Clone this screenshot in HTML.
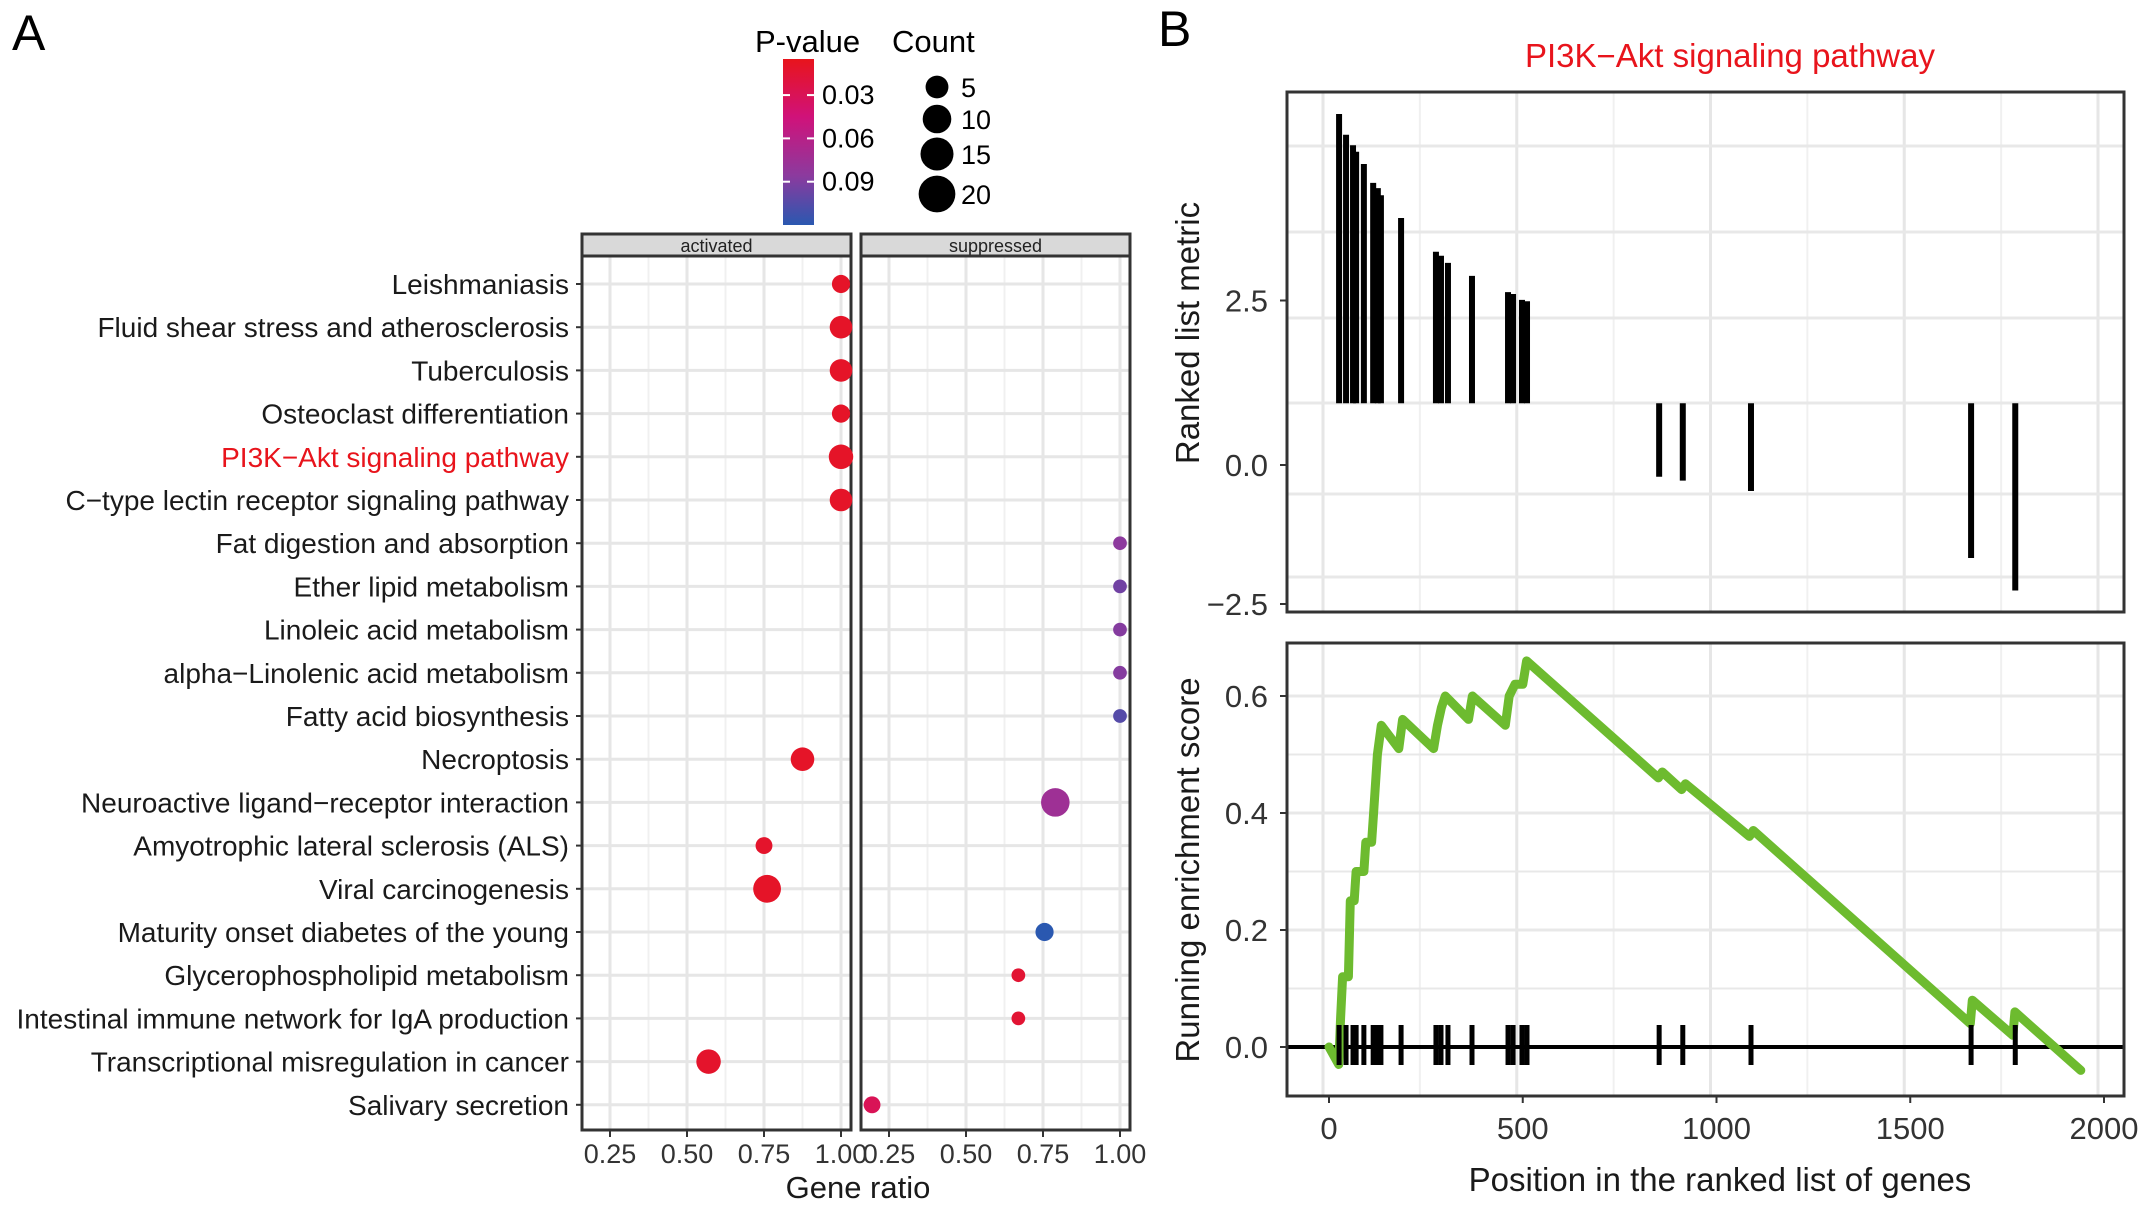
<!DOCTYPE html>
<html><head><meta charset="utf-8"><style>
html,body{margin:0;padding:0;background:#fff;}
svg{display:block;font-family:"Liberation Sans",Arial,sans-serif;}
</style></head><body>
<svg id="fig" width="2150" height="1209" viewBox="0 0 2150 1209" xmlns="http://www.w3.org/2000/svg">
<defs>
<linearGradient id="pgrad" x1="0" y1="0" x2="0" y2="1">
<stop offset="0" stop-color="#e8141c"/><stop offset="0.35" stop-color="#d0127a"/><stop offset="0.7" stop-color="#8c3a9e"/><stop offset="1" stop-color="#2a58b0"/>
</linearGradient>
</defs>
<text x="12" y="50" font-size="50">A</text>
<text x="1158" y="46" font-size="50">B</text>
<g id="legend">
<text x="755" y="52" font-size="31">P-value</text>
<rect x="783" y="59" width="31" height="166" fill="url(#pgrad)"/>
<text x="892" y="52" font-size="31">Count</text>
</g>
<g id="plotA"></g>
<g id="plotB"></g>
</svg>
<script>
const NS='http://www.w3.org/2000/svg';
function mk(parent,tag,attrs,txt){const e=document.createElementNS(NS,tag);for(const k in attrs)e.setAttribute(k,attrs[k]);if(txt!==undefined)e.textContent=txt;parent.appendChild(e);return e;}

// ---------- Panel A data ----------
const pathways=["Leishmaniasis","Fluid shear stress and atherosclerosis","Tuberculosis","Osteoclast differentiation","PI3K\u2212Akt signaling pathway","C\u2212type lectin receptor signaling pathway","Fat digestion and absorption","Ether lipid metabolism","Linoleic acid metabolism","alpha\u2212Linolenic acid metabolism","Fatty acid biosynthesis","Necroptosis","Neuroactive ligand\u2212receptor interaction","Amyotrophic lateral sclerosis (ALS)","Viral carcinogenesis","Maturity onset diabetes of the young","Glycerophospholipid metabolism","Intestinal immune network for IgA production","Transcriptional misregulation in cancer","Salivary secretion"];
const groups=["act","act","act","act","act","act","sup","sup","sup","sup","sup","act","sup","act","act","sup","sup","sup","act","sup"];
const geneRatio=[1.0,1.0,1.0,1.0,1.0,1.0,1.0,1.0,1.0,1.0,1.0,0.875,0.79,0.75,0.76,0.755,0.67,0.67,0.57,0.195];
const counts=[6,10,10,6,12,10,3,3,3,3,3,11,17,5,16,6,3,3,12,5];
const pvalues=[0.01,0.01,0.01,0.01,0.01,0.01,0.085,0.095,0.088,0.088,0.105,0.01,0.075,0.012,0.01,0.12,0.015,0.015,0.012,0.03];
const xTicks=[0.25,0.5,0.75,1.0];
const xTickLabels=["0.25","0.50","0.75","1.00"];
const legendCounts=[5,10,15,20];
const pTicks=[0.03,0.06,0.09];

const panels={act:{x0:582,x1:851,label:"activated"},sup:{x0:861,x1:1130,label:"suppressed"}};
const yTop=256,yBot=1130,stripTop=234;
function xA(g,v){const p=panels[g];return p.x0+28+(v-0.25)*(p.x1-p.x0-28-10)/0.75;}
function yA(i){return 284+i*43.2;}
function rA(c){return 3.1*Math.sqrt(c)+1.5;}
function pY(p){return 59+(p-0.005)*(166/0.115);}
function pColor(p){const t=Math.max(0,Math.min(1,(p-0.005)/0.115));
 const st=[[0,[232,20,28]],[0.35,[208,18,122]],[0.7,[140,58,158]],[1,[42,88,176]]];
 for(let k=0;k<st.length-1;k++){if(t<=st[k+1][0]){const a=st[k],b=st[k+1],u=(t-a[0])/(b[0]-a[0]);const c=a[1].map((v,j)=>Math.round(v+(b[1][j]-v)*u));return `rgb(${c.join(',')})`;}}return 'rgb(42,88,176)';}

const leg=document.getElementById('legend');
pTicks.forEach(p=>{const y=pY(p);
 const l=mk(leg,'line',{x1:783,x2:790,y1:y,y2:y,stroke:'#fff','stroke-width':2});
 
 const l2=mk(leg,'line',{x1:807,x2:814,y1:y,y2:y,stroke:'#fff','stroke-width':2});
 
 const t=mk(leg,'text',{x:822,y:y+9,'font-size':27},p.toFixed(2));
 });
const legY=[87,119,154,194];
legendCounts.forEach((c,i)=>{
 const ci=mk(leg,'circle',{cx:937,cy:legY[i],r:rA(c)+3,fill:'#000'});
 
 const t=mk(leg,'text',{x:961,y:legY[i]+10,'font-size':27},String(c));
 });

const A=document.getElementById('plotA');
['act','sup'].forEach(g=>{const p=panels[g];
 const bg=mk(A,'rect',{x:p.x0,y:yTop,width:p.x1-p.x0,height:yBot-yTop,fill:'#fff'});
 
 [0.125,0.375,0.625,0.875,1.125].forEach(v=>{const x=xA(g,v);if(x>p.x0&&x<p.x1){const l=mk(A,'line',{x1:x,x2:x,y1:yTop,y2:yBot,stroke:'#f0f0f0','stroke-width':2});}});
 xTicks.forEach(v=>{const x=xA(g,v);const l=mk(A,'line',{x1:x,x2:x,y1:yTop,y2:yBot,stroke:'#e6e6e6','stroke-width':3});});
 pathways.forEach((n,i)=>{const l=mk(A,'line',{x1:p.x0,x2:p.x1,y1:yA(i),y2:yA(i),stroke:'#e6e6e6','stroke-width':3});});
 const st=mk(A,'rect',{x:p.x0,y:stripTop,width:p.x1-p.x0,height:yTop-stripTop,fill:'#d9d9d9',stroke:'#333','stroke-width':3});
 
 const stt=mk(A,'text',{x:(p.x0+p.x1)/2,y:stripTop+18,'font-size':18,'text-anchor':'middle',fill:'#222'},p.label);
 
 const br=mk(A,'rect',{x:p.x0,y:yTop,width:p.x1-p.x0,height:yBot-yTop,fill:'none',stroke:'#333','stroke-width':3});
 
 xTicks.forEach((v,k)=>{const x=xA(g,v);
  const tk=mk(A,'line',{x1:x,x2:x,y1:yBot,y2:yBot+7,stroke:'#333','stroke-width':2});
  const t=mk(A,'text',{x:x,y:yBot+33,'font-size':27,'text-anchor':'middle',fill:'#333'},xTickLabels[k]);});
});
pathways.forEach((n,i)=>{const y=yA(i);
 const tk=mk(A,'line',{x1:576,x2:582,y1:y,y2:y,stroke:'#333','stroke-width':2});
 const t=mk(A,'text',{x:569,y:y+10,'font-size':28,'text-anchor':'end',fill:i===4?'#e8141c':'#1a1a1a'},n);
 
 const c=mk(A,'circle',{cx:xA(groups[i],geneRatio[i]),cy:y,r:rA(counts[i]),fill:pColor(pvalues[i])});
 });
const gx=mk(A,'text',{x:858,y:1198,'font-size':31,'text-anchor':'middle',fill:'#1a1a1a'},'Gene ratio');


// ---------- Panel B data ----------
const hitPos=[26,44,62,70,90,114,126,134,186,276,289,307,369,462,475,498,511,852,913,1089,1657,1771];
const metric=[5.4,5.08,4.92,4.82,4.63,4.34,4.26,4.15,3.8,3.28,3.22,3.11,2.91,2.66,2.63,2.54,2.52,-0.18,-0.24,-0.4,-1.43,-1.93];
const esX=[0,25,30,35,50,55,65,70,90,95,110,115,125,135,180,190,270,280,290,300,360,370,455,465,480,500,510,850,860,910,920,1085,1095,1655,1660,1765,1770,1940];
const esY=[0,-0.03,0.05,0.12,0.12,0.25,0.25,0.30,0.30,0.35,0.35,0.40,0.50,0.55,0.51,0.56,0.51,0.55,0.58,0.60,0.56,0.60,0.55,0.60,0.62,0.62,0.66,0.46,0.47,0.44,0.45,0.36,0.37,0.04,0.08,0.02,0.06,-0.04];
const bxTicks=[0,500,1000,1500,2000];
const metricTicks=[2.5,0.0,-2.5];
const metricTickLabels=["2.5","0.0","\u22122.5"];
const esTicks=[0,0.2,0.4,0.6];
const esTickLabels=["0.0","0.2","0.4","0.6"];

const B=document.getElementById('plotB');
const L=1287,R=2124,T1=92,B1=612,T2=643,B2=1096;
function xB(v){return 1329+v*0.3875;}
function yM(v){return 465-v*65;}
function yE(v){return 1047-v*585;}
const mBase=0.95;
function frame(t,b,nm){const r=mk(B,'rect',{x:L,y:t,width:R-L,height:b-t,fill:'#fff'});}
frame(T1,B1,'metric-panel');frame(T2,B2,'es-panel');
[[T1,B1],[T2,B2]].forEach(([t,b])=>{
 [-250,0,250,500,750,1000,1250,1500,1750,2000].forEach(v=>{const x=xB(v)-6;if(x>L&&x<R){const l=mk(B,'line',{x1:x,x2:x,y1:t,y2:b,stroke:v%500===0?'#e6e6e6':'#f0f0f0','stroke-width':v%500===0?3:2});}});});
[146,232,318,403,494,577].forEach(y=>{const l=mk(B,'line',{x1:L,x2:R,y1:y,y2:y,stroke:'#e8e8e8','stroke-width':3});});
[0,0.1,0.2,0.3,0.4,0.5,0.6].forEach(v=>{const y=yE(v);const l=mk(B,'line',{x1:L,x2:R,y1:y,y2:y,stroke:'#e8e8e8','stroke-width':Math.round(v*10)%2===0?3:2});});
hitPos.forEach((p,i)=>{const x=xB(p);const y0=yM(mBase),y1=yM(metric[i]);
 const b=mk(B,'line',{x1:x,x2:x,y1:y0,y2:y1,stroke:'#000','stroke-width':6});});
const base=mk(B,'line',{x1:L,x2:R,y1:yE(0),y2:yE(0),stroke:'#000','stroke-width':4});
let d='';esX.forEach((v,i)=>{d+=(i?'L':'M')+xB(v).toFixed(1)+' '+yE(esY[i]).toFixed(1);});
const pl=mk(B,'path',{d:d,fill:'none',stroke:'#6dbb2f','stroke-width':9,'stroke-linejoin':'round','stroke-linecap':'round'});
hitPos.forEach(p=>{const x=xB(p);const h=mk(B,'line',{x1:x,x2:x,y1:1025,y2:1065,stroke:'#000','stroke-width':5});});
[[T1,B1],[T2,B2]].forEach(([t,b])=>{const r=mk(B,'rect',{x:L,y:t,width:R-L,height:b-t,fill:'none',stroke:'#333','stroke-width':3});});
metricTicks.forEach((v,i)=>{const y=Math.min(yM(v)-(v>0?2:0),B1-8);
 const tk=mk(B,'line',{x1:L-7,x2:L,y1:y,y2:y,stroke:'#333','stroke-width':2});
 const t=mk(B,'text',{x:1268,y:y+11,'font-size':31,'text-anchor':'end',fill:'#333'},metricTickLabels[i]);});
esTicks.forEach((v,i)=>{const y=yE(v);
 const tk=mk(B,'line',{x1:L-7,x2:L,y1:y,y2:y,stroke:'#333','stroke-width':2});
 const t=mk(B,'text',{x:1268,y:y+11,'font-size':31,'text-anchor':'end',fill:'#333'},esTickLabels[i]);});
bxTicks.forEach(v=>{const x=xB(v);
 const tk=mk(B,'line',{x1:x,x2:x,y1:B2,y2:B2+7,stroke:'#333','stroke-width':2});
 const t=mk(B,'text',{x:x,y:1139,'font-size':31,'text-anchor':'middle',fill:'#333'},String(v));});
const tt=mk(B,'text',{x:1730,y:67,'font-size':33,'text-anchor':'middle',fill:'#e8141c'},'PI3K\u2212Akt signaling pathway');
const xl=mk(B,'text',{x:1720,y:1191,'font-size':33,'text-anchor':'middle',fill:'#1a1a1a'},'Position in the ranked list of genes');
const y1=mk(B,'text',{x:0,y:0,'font-size':33,'text-anchor':'middle',fill:'#1a1a1a',transform:'translate(1199,333) rotate(-90)'},'Ranked list metric');
const y2=mk(B,'text',{x:0,y:0,'font-size':33,'text-anchor':'middle',fill:'#1a1a1a',transform:'translate(1199,870) rotate(-90)'},'Running enrichment score');
</script>
</body></html>
